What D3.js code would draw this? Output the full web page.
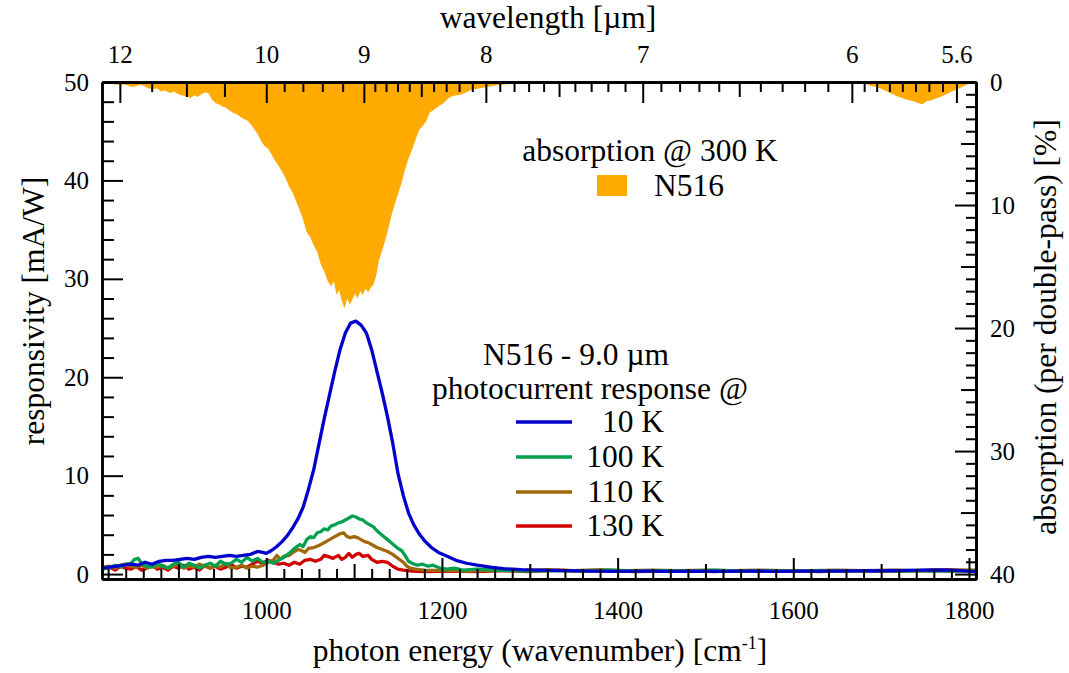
<!DOCTYPE html>
<html><head><meta charset="utf-8">
<script src="https://cdn.jsdelivr.net/npm/d3@7"></script>
<style>
body{margin:0;background:#fff;}
svg text{font-family:"Liberation Serif","DejaVu Serif",serif;fill:#000;}
</style></head><body>
<svg id="c" width="1069" height="673"></svg>
<script>
// ---------- data ----------
// absorption @ 300 K (percent per double-pass) vs wavenumber
const absorption = [[813,0.05],[818,0.15],[823,0.1],[828,0.2],[833,0.25],[838,0.2],[843,0.3],[848,0.4],[853,0.3],[857,0.2],[861,0.35],[866,0.5],[870,0.6],[875,0.5],[880,0.75],[885,0.7],[890,0.9],[895,0.8],[900,1.0],[905,1.1],[910,1.2],[914,1.3],[918,1.1],[922,1.2],[926,1.0],[930,0.85],[934,0.9],[938,1.4],[942,1.7],[946,1.8],[950,2.0],[954,2.1],[958,2.3],[962,2.5],[966,2.6],[970,2.8],[974,3.0],[978,3.1],[982,3.4],[986,3.8],[990,4.2],[994,4.8],[998,5.2],[1002,5.4],[1006,5.9],[1010,6.4],[1014,6.8],[1018,7.3],[1022,7.8],[1026,8.5],[1030,9.0],[1034,9.7],[1038,10.4],[1042,11.2],[1046,12.2],[1050,12.6],[1054,13.3],[1058,13.8],[1062,14.8],[1066,15.4],[1070,16.2],[1074,16.6],[1077,16.2],[1080,17.3],[1083,16.9],[1086,17.8],[1089,18.4],[1092,17.6],[1095,18.1],[1098,17.7],[1101,17.2],[1104,17.6],[1107,17.0],[1110,17.3],[1113,16.8],[1116,17.1],[1119,16.7],[1122,16.5],[1125,15.8],[1128,14.6],[1131,13.9],[1134,13.2],[1138,12.2],[1142,11.0],[1146,10.0],[1150,9.1],[1154,8.2],[1158,7.1],[1162,6.2],[1166,5.5],[1170,4.7],[1174,3.9],[1178,3.6],[1182,3.2],[1186,2.5],[1190,2.3],[1194,2.1],[1198,1.9],[1202,1.7],[1206,1.4],[1210,1.2],[1215,1.1],[1220,1.05],[1226,0.9],[1232,0.7],[1240,0.55],[1248,0.45],[1256,0.35],[1264,0.25],[1272,0.2],[1282,0.1],[1295,0.05],[1320,0.02],[1350,0.05],[1400,0.02],[1430,0.08],[1460,0.02],[1500,0.01],[1560,0.01],[1620,0.01],[1660,0.02],[1675,0.05],[1682,0.15],[1688,0.3],[1694,0.4],[1700,0.55],[1706,0.75],[1712,0.95],[1718,1.15],[1724,1.3],[1730,1.45],[1736,1.55],[1742,1.7],[1747,1.8],[1752,1.55],[1757,1.5],[1762,1.35],[1768,1.2],[1774,1.0],[1780,0.8],[1786,0.6],[1792,0.4],[1798,0.2],[1804,0.05],[1808,0.0]];

// photocurrent responsivity (mA/W) vs wavenumber
const resp10K = [[813,0.6],[822,0.7],[830,0.8],[838,0.9],[846,1.0],[854,0.9],[862,1.2],[870,1.0],[878,1.3],[886,1.4],[894,1.4],[902,1.5],[910,1.6],[918,1.5],[926,1.7],[934,1.8],[942,1.7],[950,1.8],[958,1.9],[966,1.8],[974,1.9],[982,2.0],[990,2.3],[996,2.2],[1000,2.1],[1006,2.4],[1012,2.8],[1018,3.3],[1024,3.9],[1030,4.7],[1036,5.6],[1042,6.8],[1048,8.6],[1054,10.6],[1060,13.2],[1066,15.8],[1072,18.2],[1078,20.6],[1084,22.8],[1090,24.5],[1096,25.5],[1102,25.7],[1108,25.3],[1114,24.5],[1120,22.8],[1126,20.6],[1132,18.4],[1138,16.0],[1144,13.3],[1150,10.2],[1156,8.0],[1162,6.2],[1168,5.0],[1174,4.1],[1180,3.4],[1188,2.7],[1196,2.2],[1206,1.8],[1216,1.4],[1228,1.1],[1240,0.9],[1255,0.7],[1270,0.55],[1290,0.45],[1310,0.4],[1340,0.35],[1370,0.3],[1400,0.28],[1430,0.3],[1460,0.27],[1490,0.3],[1520,0.27],[1550,0.3],[1580,0.28],[1610,0.3],[1640,0.3],[1670,0.32],[1700,0.34],[1730,0.38],[1760,0.42],[1780,0.4],[1795,0.32],[1808,0.25]];
const resp100K = [[813,0.5],[822,0.7],[828,0.9],[834,0.7],[840,1.0],[846,1.1],[850,1.5],[854,1.6],[858,1.1],[864,0.8],[870,0.7],[876,1.1],[882,0.8],[888,0.6],[894,1.0],[900,1.2],[906,0.7],[912,1.1],[918,0.9],[924,0.6],[930,0.9],[936,1.1],[942,0.8],[948,1.3],[954,1.0],[960,1.1],[966,1.5],[972,1.2],[978,1.7],[984,1.3],[990,1.6],[996,1.2],[1002,1.3],[1008,1.1],[1014,1.4],[1020,1.7],[1026,2.1],[1032,2.6],[1038,3.0],[1042,2.8],[1046,3.5],[1050,3.8],[1054,3.7],[1058,4.2],[1062,4.3],[1066,4.6],[1070,4.5],[1074,4.9],[1078,5.0],[1082,5.2],[1086,5.3],[1090,5.5],[1094,5.7],[1098,5.9],[1102,5.8],[1106,5.6],[1110,5.5],[1114,5.2],[1118,5.0],[1122,4.8],[1126,4.4],[1130,4.1],[1134,3.8],[1138,3.5],[1142,3.2],[1146,2.9],[1150,2.6],[1154,2.4],[1158,1.9],[1162,1.3],[1166,1.1],[1172,0.9],[1178,1.0],[1184,0.8],[1190,0.9],[1198,0.6],[1206,0.5],[1214,0.6],[1224,0.4],[1240,0.5],[1260,0.4],[1280,0.35],[1300,0.3],[1330,0.35],[1360,0.3],[1390,0.4],[1420,0.3],[1450,0.35],[1480,0.3],[1510,0.4],[1540,0.3],[1570,0.35],[1600,0.3],[1630,0.35],[1660,0.3],[1690,0.35],[1720,0.3],[1750,0.35],[1780,0.3],[1808,0.3]];
const resp110K = [[813,0.7],[822,0.8],[828,0.6],[834,0.9],[840,1.0],[846,0.8],[852,0.7],[858,0.9],[864,0.6],[870,0.8],[876,0.7],[882,0.9],[888,0.6],[894,0.8],[900,1.0],[906,0.6],[912,0.8],[918,0.7],[924,1.0],[930,0.8],[936,0.6],[942,0.9],[948,0.7],[954,1.1],[960,0.6],[966,0.7],[972,0.9],[978,0.6],[984,0.8],[990,0.7],[996,0.9],[1002,1.2],[1008,1.4],[1012,1.9],[1016,1.5],[1020,1.8],[1026,1.9],[1032,2.3],[1036,2.5],[1040,2.4],[1044,2.2],[1048,2.6],[1054,2.7],[1060,2.9],[1066,3.2],[1072,3.5],[1078,3.8],[1084,4.1],[1088,4.2],[1092,3.8],[1096,3.7],[1100,3.8],[1104,3.7],[1108,3.5],[1112,3.3],[1116,3.2],[1120,3.0],[1126,2.7],[1132,2.5],[1138,2.3],[1144,2.0],[1150,1.6],[1156,1.2],[1160,0.8],[1164,0.6],[1170,0.5],[1180,0.4],[1200,0.35],[1230,0.3],[1260,0.4],[1290,0.35],[1320,0.45],[1350,0.35],[1380,0.45],[1410,0.35],[1440,0.4],[1470,0.35],[1500,0.4],[1530,0.35],[1560,0.4],[1590,0.35],[1620,0.35],[1650,0.4],[1680,0.35],[1710,0.4],[1740,0.35],[1770,0.45],[1808,0.4]];
const resp130K = [[813,0.5],[822,0.7],[828,0.4],[834,0.8],[840,0.6],[846,0.5],[852,0.8],[858,0.4],[864,0.6],[870,0.9],[876,0.5],[882,0.7],[888,0.4],[894,0.8],[900,0.6],[906,0.9],[912,0.5],[918,0.7],[924,0.4],[930,0.9],[936,0.6],[942,0.8],[948,0.5],[954,0.7],[960,1.0],[966,0.6],[972,0.8],[978,0.7],[984,1.0],[990,1.3],[996,1.1],[1002,1.4],[1008,1.2],[1014,1.0],[1020,1.1],[1026,0.9],[1032,1.2],[1038,1.0],[1044,1.4],[1050,1.5],[1056,1.3],[1062,1.5],[1066,1.9],[1070,1.8],[1076,1.6],[1082,1.9],[1086,1.5],[1090,1.7],[1094,2.1],[1098,1.7],[1102,2.0],[1106,2.1],[1110,1.8],[1116,1.9],[1120,1.5],[1126,1.2],[1132,1.3],[1138,1.2],[1144,0.8],[1150,0.5],[1156,0.4],[1166,0.3],[1180,0.25],[1210,0.3],[1240,0.25],[1270,0.35],[1300,0.25],[1330,0.4],[1360,0.3],[1390,0.35],[1420,0.25],[1450,0.3],[1480,0.35],[1510,0.25],[1540,0.35],[1570,0.3],[1600,0.35],[1630,0.25],[1660,0.35],[1690,0.3],[1720,0.3],[1750,0.35],[1780,0.3],[1808,0.35]];

const seriesNames = ["10 K", "100 K", "110 K", "130 K"];
const seriesColors = ["#0000cc", "#00a050", "#a0680a", "#d00000"];
const absColor = "#ffaa00";

// tick labels
const bottomMajor = [1000, 1200, 1400, 1600, 1800];
const bottomMedium = [900, 1100, 1300, 1500, 1700];
const leftMajor = [0, 10, 20, 30, 40, 50];
const rightMajor = [0, 10, 20, 30, 40];
const topMajor = [12, 10, 9, 8, 7, 6, 5.6];
const topMedium = [11, 10.5, 8.5, 7.5, 6.5];
const topMinor = [11.5, 9.8, 9.6, 9.4, 9.2, 8.9, 8.8, 8.7, 8.6, 8.4, 8.3, 8.2, 8.1, 7.9, 7.8, 7.7, 7.6, 7.4, 7.3, 7.2, 7.1, 6.9, 6.8, 6.7, 6.6, 6.4, 6.3, 6.2, 6.1, 5.95, 5.9, 5.85, 5.8, 5.75, 5.7, 5.65];

// ---------- layout ----------
const L = 102, R = 976, T = 82, B = 579;
const FONT = '"Liberation Serif","DejaVu Serif",serif';
const svg = d3.select("#c");
const x = d3.scaleLinear().domain([813, 1808]).range([L, R]);
const yL = d3.scaleLinear().domain([-0.5, 50]).range([B, T]);
const yR = d3.scaleLinear().domain([0, 40.4]).range([T, B]);

svg.append("defs").append("clipPath").attr("id", "clip")
  .append("rect").attr("x", L).attr("y", T).attr("width", R - L).attr("height", B - T);

const plot = svg.append("g").attr("clip-path", "url(#clip)");

// absorption fill (hangs from top)
plot.append("path").datum(absorption)
  .attr("fill", absColor)
  .attr("d", d3.area().x(d => x(d[0])).y0(yR(0)).y1(d => yR(d[1])));

const seriesData = [resp10K, resp100K, resp110K, resp130K];
const line = d3.line().x(d => x(d[0])).y(d => yL(d[1]));
[3, 2, 1, 0].forEach(i => {
  plot.append("path").datum(seriesData[i])
    .attr("fill", "none").attr("stroke", seriesColors[i])
    .attr("stroke-width", 3.3).attr("stroke-linejoin", "round")
    .attr("d", line);
});

// ---------- axes ----------
const tickFont = 25, titleFont = 31.5;
function styleAxis(g) {
  g.attr("font-family", null);
  g.select(".domain").attr("stroke", "#000").attr("stroke-width", 2.5);
  g.selectAll(".tick line").attr("stroke", "#000").attr("stroke-width", 2);
  g.selectAll(".tick text").style("font-size", tickFont + "px").style("font-family", FONT);
}
const range = (a, b, s) => d3.range(a, b + s / 2, s);

// bottom
const bMinor = range(820, 1800, 20).filter(v => !bottomMajor.includes(v) && !bottomMedium.includes(v));
svg.append("g").attr("transform", `translate(0,${B})`)
  .call(d3.axisBottom(x).tickValues(bMinor).tickSize(-10).tickFormat("").tickSizeOuter(0)).call(styleAxis);
svg.append("g").attr("transform", `translate(0,${B})`)
  .call(d3.axisBottom(x).tickValues(bottomMedium).tickSize(-15).tickFormat("").tickSizeOuter(0)).call(styleAxis);
svg.append("g").attr("transform", `translate(0,${B})`)
  .call(d3.axisBottom(x).tickValues(bottomMajor).tickSize(-21).tickPadding(22)
    .tickFormat(d3.format("d")).tickSizeOuter(0)).call(styleAxis);

// top (wavelength)
const wl = v => 10000 / v;
svg.append("g").attr("transform", `translate(0,${T})`)
  .call(d3.axisTop(x).tickValues(topMinor.map(wl)).tickSize(-10).tickFormat("").tickSizeOuter(0)).call(styleAxis);
svg.append("g").attr("transform", `translate(0,${T})`)
  .call(d3.axisTop(x).tickValues(topMedium.map(wl)).tickSize(-15).tickFormat("").tickSizeOuter(0)).call(styleAxis);
svg.append("g").attr("transform", `translate(0,${T})`)
  .call(d3.axisTop(x).tickValues(topMajor.map(wl)).tickSize(-21).tickPadding(19)
    .tickFormat(v => String(Math.round(10000 / v * 10) / 10)).tickSizeOuter(0)).call(styleAxis);

// left
const lMinor = range(0, 50, 2).filter(v => v % 10 !== 0);
svg.append("g").attr("transform", `translate(${L},0)`)
  .call(d3.axisLeft(yL).tickValues(lMinor).tickSize(-12).tickFormat("").tickSizeOuter(0)).call(styleAxis);
svg.append("g").attr("transform", `translate(${L},0)`)
  .call(d3.axisLeft(yL).tickValues(leftMajor).tickSize(-21).tickPadding(13).tickSizeOuter(0)).call(styleAxis);

// right
const rMinor = range(1, 40, 1).filter(v => v % 5 !== 0);
svg.append("g").attr("transform", `translate(${R},0)`)
  .call(d3.axisRight(yR).tickValues(rMinor).tickSize(-10).tickFormat("").tickSizeOuter(0)).call(styleAxis);
svg.append("g").attr("transform", `translate(${R},0)`)
  .call(d3.axisRight(yR).tickValues([5, 15, 25, 35]).tickSize(-15).tickFormat("").tickSizeOuter(0)).call(styleAxis);
svg.append("g").attr("transform", `translate(${R},0)`)
  .call(d3.axisRight(yR).tickValues(rightMajor).tickSize(-21).tickPadding(14).tickSizeOuter(0)).call(styleAxis);

// ---------- titles ----------
const tt = (xx, yy, txt, anchor = "middle", size = titleFont) =>
  svg.append("text").attr("x", xx).attr("y", yy).attr("text-anchor", anchor)
    .style("font-size", size + "px").style("font-family", FONT).text(txt);

tt(548, 28, "wavelength [µm]");
const bt = svg.append("text").attr("x", 540).attr("y", 661).attr("text-anchor", "middle")
  .style("font-size", titleFont + "px").style("font-family", FONT);
bt.append("tspan").text("photon energy (wavenumber) [cm");
bt.append("tspan").attr("dy", -12).style("font-size", "18px").text("-1");
bt.append("tspan").attr("dy", 12).text("]");

svg.append("text").attr("transform", "translate(44,311) rotate(-90)")
  .attr("text-anchor", "middle").style("font-size", titleFont + "px").style("font-family", FONT)
  .text("responsivity [mA/W]");
svg.append("text").attr("transform", "translate(1056,327) rotate(-90)")
  .attr("text-anchor", "middle").style("font-size", titleFont + "px").style("font-family", FONT)
  .text("absorption (per double-pass) [%]");

// ---------- legends ----------
tt(650, 161, "absorption @ 300 K");
svg.append("rect").attr("x", 597).attr("y", 175).attr("width", 30).attr("height", 21).attr("fill", absColor);
tt(654, 196, "N516", "start");

tt(576, 365, "N516 - 9.0 µm");
tt(590, 399, "photocurrent response @");
const legY = [422, 457, 492, 526];
seriesNames.forEach((n, i) => {
  svg.append("line").attr("x1", 516).attr("x2", 572).attr("y1", legY[i]).attr("y2", legY[i])
    .attr("stroke", seriesColors[i]).attr("stroke-width", 3.5);
  tt(664, legY[i] + 10, n, "end");
});
</script>
</body></html>
